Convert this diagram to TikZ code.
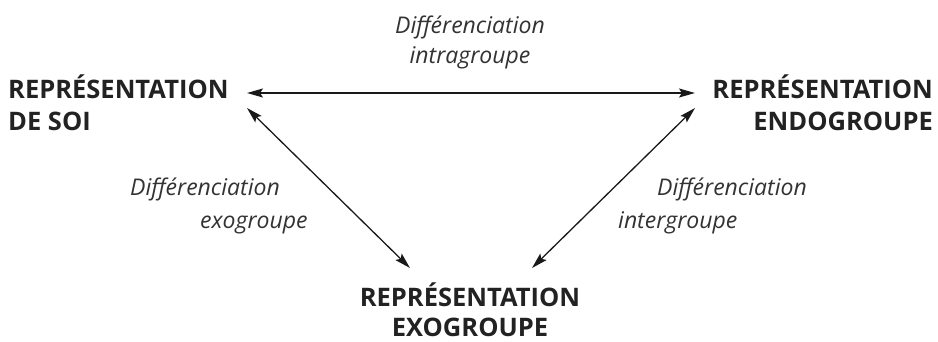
\documentclass[tikz,border=0pt]{standalone}
\usepackage{fontspec}
\setmainfont{Open Sans}
\usetikzlibrary{arrows.meta}
\definecolor{txt}{HTML}{222222}
\definecolor{lbl}{HTML}{333333}
\begin{document}
\begin{tikzpicture}[x=1pt,y=-1pt,
  big/.style={font=\fontsize{25.5}{32}\selectfont\bfseries, text=txt, inner sep=0pt},
  lab/.style={font=\fontsize{23}{33}\selectfont\itshape, text=lbl, inner sep=0pt},
  link/.style={line width=1.3pt, draw=black!90, {Stealth[length=16pt,width=9pt,inset=3pt]}-{Stealth[length=16pt,width=9pt,inset=3pt]}}]
\useasboundingbox (0,0) rectangle (938,341);
\node[big, anchor=base west, align=left] (soi) at (8,130) {REPRÉSENTATION\\DE SOI};
\node[big, anchor=base east, align=right] (endo) at (933,130) {REPRÉSENTATION\\ENDOGROUPE};
\node[big, anchor=base, align=center, font=\fontsize{25.5}{30}\selectfont\bfseries] (exo) at (470,336) {REPRÉSENTATION\\EXOGROUPE};
\node[lab, anchor=base, align=center, font=\fontsize{23}{30}\selectfont\itshape] (intra) at (470,63) {Différenciation\\intragroupe};
\node[lab, anchor=base west, align=left] (exol) at (130,228) {Différenciation\\\hspace*{70pt}exogroupe};
\node[lab, anchor=base west, align=left] (inter) at (618,228) {\hspace*{39pt}Différenciation\\intergroupe};
\coordinate (soiE) at (247,93);
\coordinate (endoW) at (695,93);
\coordinate (soiS) at (247,108);
\coordinate (exoNW) at (410,268);
\coordinate (endoS) at (695,108);
\coordinate (exoNE) at (532,268);
\draw[link] (soiE) -- (endoW);
\draw[link] (soiS) -- (exoNW);
\draw[link] (endoS) -- (exoNE);
\end{tikzpicture}
\end{document}
